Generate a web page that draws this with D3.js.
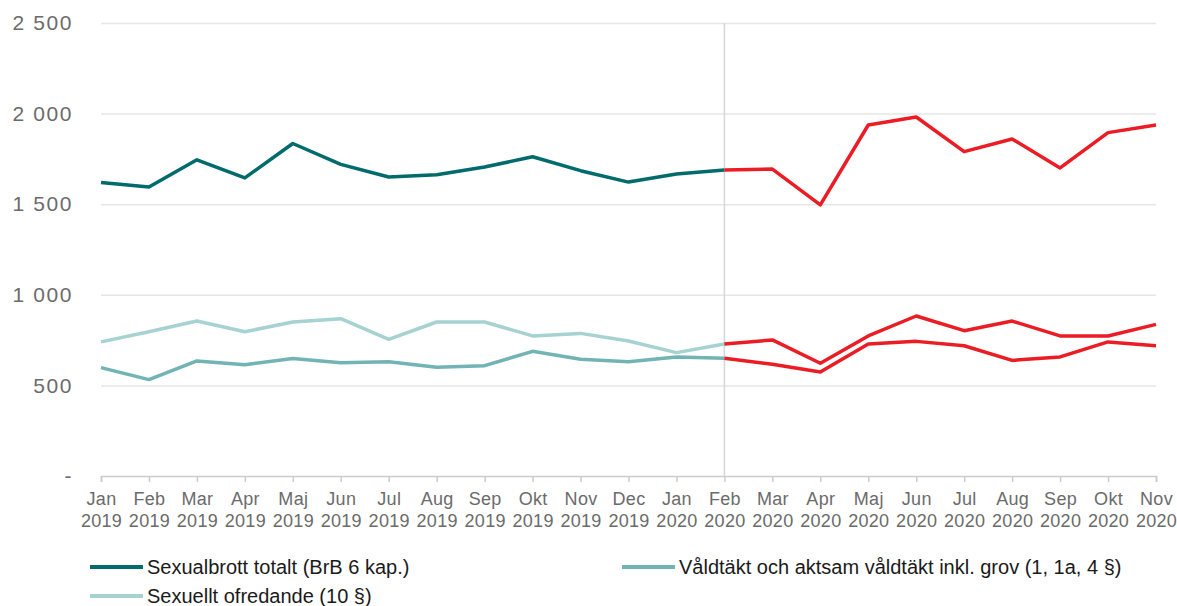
<!DOCTYPE html>
<html>
<head>
<meta charset="utf-8">
<script src="https://cdn.jsdelivr.net/npm/d3@7"></script>
<style>
    body { margin: 0; background: #fff; }
    svg { font-family: "Liberation Sans", Arial, sans-serif; }
    .axis text { fill: #6b6b6b; }
    .legend text { fill: #1a1a1a; font-size: 20px; }
</style>
</head>
<body>
<div id="chart"></div>
<script>
var months = ['Jan', 'Feb', 'Mar', 'Apr', 'Maj', 'Jun', 'Jul', 'Aug', 'Sep', 'Okt', 'Nov', 'Dec',
    'Jan', 'Feb', 'Mar', 'Apr', 'Maj', 'Jun', 'Jul', 'Aug', 'Sep', 'Okt', 'Nov'];
var years = ['2019', '2019', '2019', '2019', '2019', '2019', '2019', '2019', '2019', '2019', '2019', '2019',
    '2020', '2020', '2020', '2020', '2020', '2020', '2020', '2020', '2020', '2020', '2020'];

var totalt = [1620, 1595, 1745, 1645, 1835, 1720, 1650, 1662, 1705, 1762, 1685, 1622,
    1667, 1689, 1694, 1496, 1937, 1981, 1790, 1860, 1700, 1895, 1937];
var valdtakt = [598, 532, 635, 614, 648, 625, 631, 600, 609, 688, 644, 631,
    657, 650, 617, 574, 728, 743, 719, 638, 657, 740, 719];
var ofredande = [740, 796, 855, 796, 850, 868, 754, 850, 850, 773, 787, 745,
    681, 728, 751, 622, 773, 883, 802, 855, 773, 773, 837];

var yTicks = [0, 500, 1000, 1500, 2000, 2500];
var splitIndex = 13; // Feb 2020, red from here on

var series = [
    { name: 'Sexualbrott totalt (BrB 6 kap.)', values: totalt, color: '#006b6d' },
    { name: 'Våldtäkt och aktsam våldtäkt inkl. grov (1, 1a, 4 §)', values: valdtakt, color: '#72b4b6' },
    { name: 'Sexuellt ofredande (10 §)', values: ofredande, color: '#a6d2d1' }
];
var red = '#ec1c24';

var width = 1177, height = 606;
var plotLeft = 101, plotRight = 1156, plotTop = 23, plotBottom = 476;

var svg = d3.select('#chart').append('svg')
    .attr('width', width)
    .attr('height', height);

var x = d3.scalePoint()
    .domain(d3.range(months.length))
    .range([plotLeft, plotRight]);

var y = d3.scaleLinear()
    .domain([0, 2500])
    .range([plotBottom, plotTop]);

// y axis with gridlines
var yAxis = svg.append('g')
    .attr('class', 'axis')
    .attr('transform', 'translate(' + plotLeft + ',0)')
    .call(d3.axisLeft(y)
        .tickValues(yTicks)
        .tickSize(-(plotRight - plotLeft))
        .tickPadding(28)
        .tickFormat(function(d) {
            return d === 0 ? '-' : d3.format(',')(d).replace(',', ' ');
        }));
yAxis.select('.domain').remove();
yAxis.selectAll('.tick line')
    .attr('stroke', '#e6e6e6')
    .attr('stroke-width', 1.5);
yAxis.selectAll('.tick text')
    .style('font-size', '21px')
    .style('letter-spacing', '1.6px');
yAxis.selectAll('.tick').filter(function(d) { return d === 0; }).select('line').remove();

// x axis
var xAxis = svg.append('g')
    .attr('class', 'axis')
    .attr('transform', 'translate(0,' + plotBottom + ')')
    .call(d3.axisBottom(x)
        .tickSizeOuter(0)
        .tickSize(6)
        .tickFormat(''));
xAxis.select('.domain').attr('stroke', '#cccccc').attr('stroke-width', 1.5);
xAxis.selectAll('.tick line').attr('stroke', '#cccccc').attr('stroke-width', 1.5);

var labels = xAxis.selectAll('.tick').append('text')
    .attr('text-anchor', 'middle')
    .style('font-size', '18px')
    .style('letter-spacing', '0.3px');
labels.append('tspan')
    .attr('x', 0)
    .attr('y', 29)
    .text(function(d) { return months[d]; });
labels.append('tspan')
    .attr('x', 0)
    .attr('y', 51)
    .text(function(d) { return years[d]; });

// divider at Feb 2020
svg.append('line')
    .attr('x1', x(splitIndex))
    .attr('x2', x(splitIndex))
    .attr('y1', plotTop)
    .attr('y2', plotBottom)
    .attr('stroke', '#d6d6d6')
    .attr('stroke-width', 1.5);

var line = d3.line()
    .x(function(d) { return x(d.i); })
    .y(function(d) { return y(d.v); });

series.forEach(function(s) {
    var pts = s.values.map(function(v, i) { return { i: i, v: v }; });
    svg.append('path')
        .datum(pts.slice(0, splitIndex + 1))
        .attr('fill', 'none')
        .attr('stroke', s.color)
        .attr('stroke-width', 3.5)
        .attr('stroke-linejoin', 'round')
        .attr('d', line);
    svg.append('path')
        .datum(pts.slice(splitIndex))
        .attr('fill', 'none')
        .attr('stroke', red)
        .attr('stroke-width', 3.5)
        .attr('stroke-linejoin', 'round')
        .attr('d', line);
});

// legend
var legendPos = [[90, 567], [622, 567], [90, 596]];
var legend = svg.append('g').attr('class', 'legend')
    .selectAll('g').data(series).enter()
    .append('g')
    .attr('transform', function(d, i) {
        return 'translate(' + legendPos[i][0] + ',' + legendPos[i][1] + ')';
    });
legend.append('line')
    .attr('x1', 0).attr('x2', 53)
    .attr('stroke', function(d) { return d.color; })
    .attr('stroke-width', 4);
legend.append('text')
    .attr('x', 57)
    .attr('dy', '0.35em')
    .text(function(d) { return d.name; });
</script>
</body>
</html>
